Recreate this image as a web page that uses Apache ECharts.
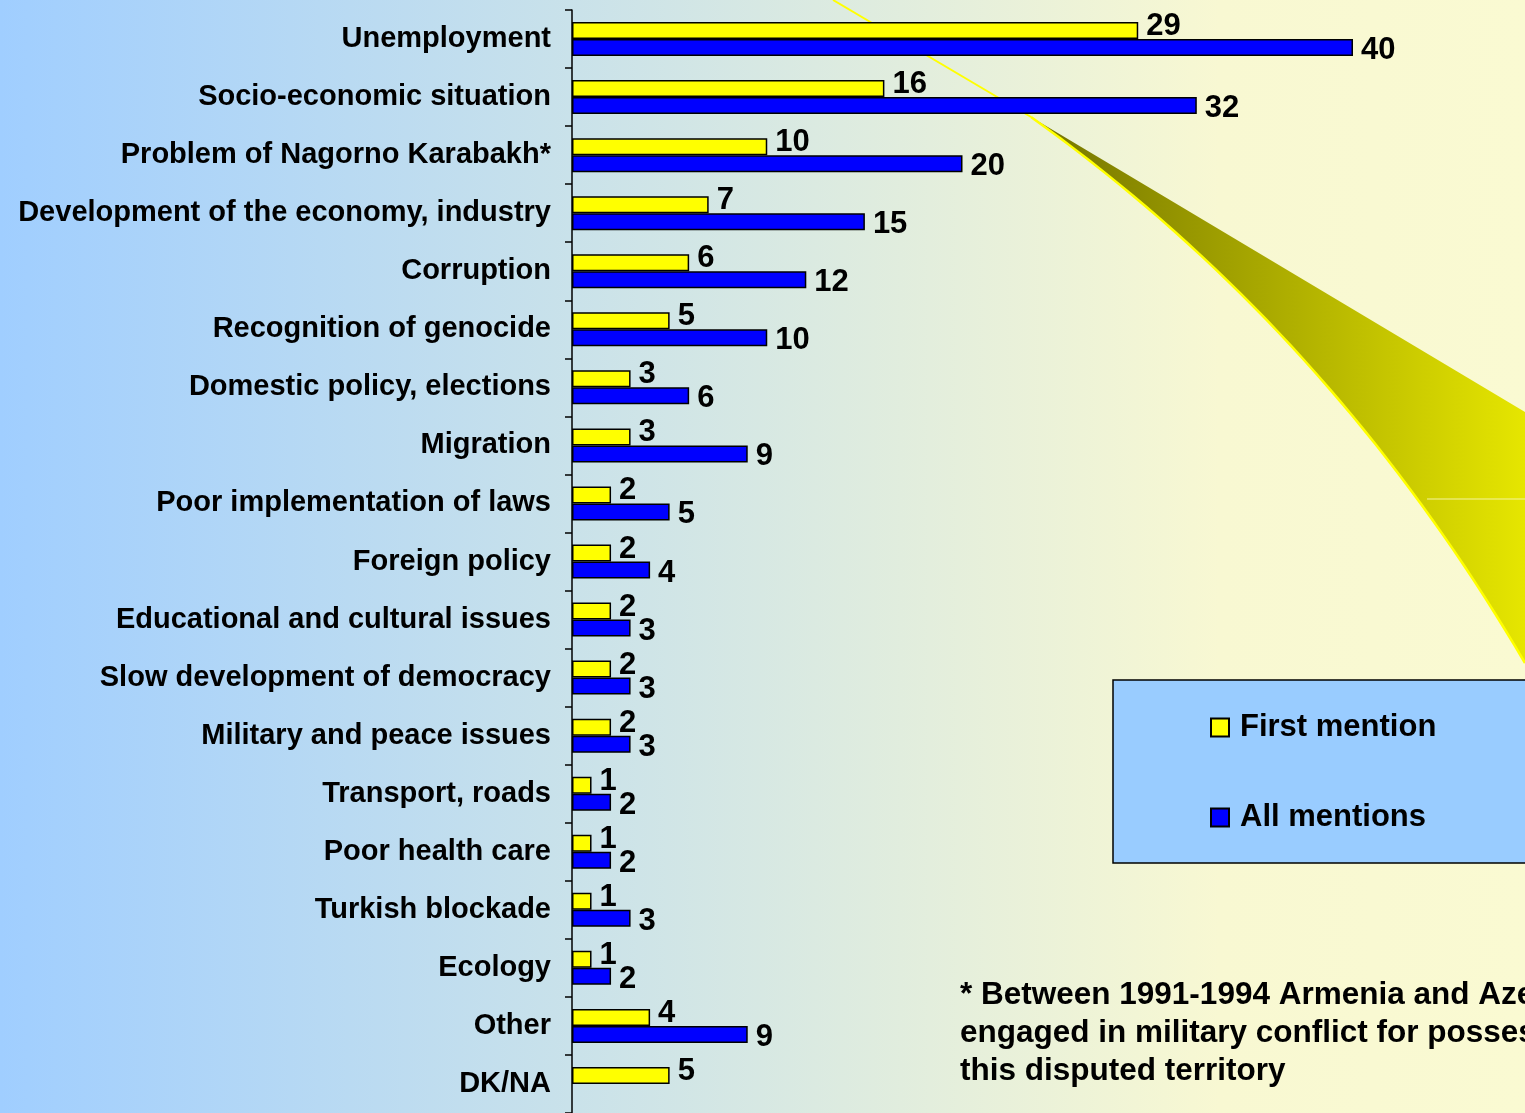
<!DOCTYPE html>
<html>
<head>
<meta charset="utf-8">
<title>Problems</title>
<script src="https://cdn.jsdelivr.net/npm/echarts@6/dist/echarts.min.js"></script>
<style>
html, body {
  margin: 0;
  padding: 0;
}
.echarts {
  width: 1525px;
  height: 1113px;
  background: linear-gradient(to right, #A0CEFF 0%, #F8F8D2 80%, #FAFAD2 100%);
}
</style>
</head>
<body>
<div class="echarts" id="main"></div>
<script>
const categories = [
  'Unemployment',
  'Socio-economic situation',
  'Problem of Nagorno Karabakh*',
  'Development of the economy, industry',
  'Corruption',
  'Recognition of genocide',
  'Domestic policy, elections',
  'Migration',
  'Poor implementation of laws',
  'Foreign policy',
  'Educational and cultural issues',
  'Slow development of democracy',
  'Military and peace issues',
  'Transport, roads',
  'Poor health care',
  'Turkish blockade',
  'Ecology',
  'Other',
  'DK/NA'
]
const firstMention = [29, 16, 10, 7, 6, 5, 3, 3, 2, 2, 2, 2, 2, 1, 1, 1, 1, 4, 5]
const allMentions = [40, 32, 20, 15, 12, 10, 6, 9, 5, 4, 3, 3, 3, 2, 2, 3, 2, 9, null]
const footnote = '* Between 1991-1994 Armenia and Azerbaijan were\nengaged in military conflict for possession of\nthis disputed territory'

const fontFamily = '"Liberation Sans", Arial, Helvetica, sans-serif'

const myChart = echarts.init(document.getElementById('main'))

// curved edge of the decorative swoosh (quadratic, sampled)
function swooshCurve() {
  const p0 = [1525, 663], c = [1330, 330], p1 = [1031, 117]
  const pts = []
  for (let i = 0; i <= 40; i++) {
    const t = i / 40
    const a = (1 - t) * (1 - t), b = 2 * (1 - t) * t, d = t * t
    pts.push([a * p0[0] + b * c[0] + d * p1[0], a * p0[1] + b * c[1] + d * p1[1]])
  }
  return pts
}
const curve = swooshCurve()

function barLabel(offsetY) {
  return {
    show: true,
    position: 'right',
    distance: 8,
    offset: [0, offsetY],
    color: '#000',
    fontSize: 31,
    fontWeight: 'bold',
    fontFamily: fontFamily
  }
}

const option = {
  backgroundColor: 'transparent',
  animation: false,
  grid: {
    left: 572,
    right: 172,
    top: 10,
    bottom: 0
  },
  legend: {
    orient: 'vertical',
    left: 1113,
    top: 680,
    backgroundColor: '#99CCFF',
    borderColor: '#000',
    borderWidth: 1.5,
    borderRadius: 0,
    padding: [32, 260, 30, 97],
    itemGap: 59,
    itemWidth: 18,
    itemHeight: 18,
    icon: 'rect',
    textStyle: {
      color: '#000',
      fontSize: 31,
      fontWeight: 'bold',
      fontFamily: fontFamily,
      padding: [0, 0, 0, 6]
    },
    data: ['First mention', 'All mentions']
  },
  xAxis: {
    type: 'value',
    min: 0,
    max: 40,
    show: false
  },
  yAxis: {
    type: 'category',
    inverse: true,
    data: categories,
    axisLine: {
      show: true,
      lineStyle: {color: '#000', width: 1.5}
    },
    axisTick: {
      show: true,
      inside: false,
      alignWithLabel: false,
      length: 7,
      lineStyle: {color: '#000', width: 1.5}
    },
    axisLabel: {
      margin: 21,
      color: '#000',
      fontSize: 29,
      fontWeight: 'bold',
      fontFamily: fontFamily
    }
  },
  graphic: [
    // decorative swoosh
    {
      type: 'polygon',
      z: 0,
      silent: true,
      shape: {points: [[1031, 117], [1525, 412]].concat(curve)},
      style: {
        fill: {
          type: 'linear',
          x: 1031, y: 0, x2: 1525, y2: 0,
          global: true,
          colorStops: [
            {offset: 0, color: '#727200'},
            {offset: 1, color: '#E6E600'}
          ]
        }
      }
    },
    {
      type: 'polyline',
      z: 0,
      silent: true,
      shape: {points: [[833, 0], [1031, 117]]},
      style: {stroke: '#FFFF00', lineWidth: 2}
    },
    {
      type: 'polyline',
      z: 0,
      silent: true,
      shape: {points: curve},
      style: {stroke: '#FFFF00', lineWidth: 2.5}
    },
    {
      type: 'line',
      z: 0,
      silent: true,
      shape: {x1: 1427, y1: 499, x2: 1525, y2: 499},
      style: {stroke: '#F4F4A0', lineWidth: 1}
    },
    {
      type: 'text',
      z: 5,
      left: 960,
      top: 976,
      style: {
        text: footnote,
        fill: '#000',
        font: 'bold 31.5px ' + fontFamily,
        lineHeight: 38
      }
    }
  ],
  series: [
    {
      name: 'First mention',
      type: 'bar',
      barWidth: 17,
      barGap: '0%',
      itemStyle: {color: '#FFFF00', borderColor: '#000', borderWidth: 1.5},
      label: barLabel(-4),
      data: firstMention
    },
    {
      name: 'All mentions',
      type: 'bar',
      barWidth: 17,
      barGap: '0%',
      itemStyle: {color: '#0000FF', borderColor: '#000', borderWidth: 1.5},
      label: barLabel(3),
      data: allMentions
    }
  ]
}

myChart.setOption(option)
window.addEventListener('resize', () => {
  myChart.resize()
})
</script>
</body>
</html>
